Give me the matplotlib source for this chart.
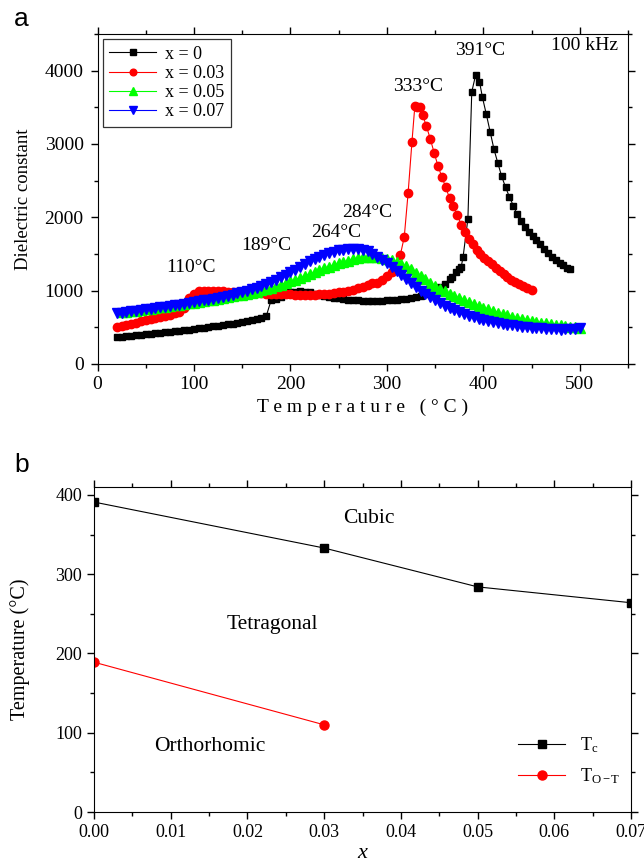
import matplotlib
matplotlib.use("Agg")
import matplotlib.pyplot as plt
from matplotlib.ticker import MultipleLocator

plt.rcParams['font.family'] = ['Liberation Serif', 'DejaVu Serif']
plt.rcParams['mathtext.fontset'] = 'custom'
plt.rcParams['mathtext.rm'] = 'Liberation Serif'
plt.rcParams['mathtext.it'] = 'Liberation Serif:italic'

# ---- panel a data: dielectric constant vs temperature (100 kHz) ----
t_x0 = [20, 25, 30, 35, 40, 45, 50, 55, 60, 65, 70, 75, 80, 85, 90, 95, 100, 105, 110, 115,
        120, 125, 130, 135, 140, 145, 150, 155, 160, 165, 170, 175, 180, 185, 190, 195, 200,
        205, 210, 215, 220, 225, 230, 235, 240, 245, 250, 255, 260, 265, 270, 275, 280, 285,
        290, 295, 300, 305, 310, 315, 320, 325, 330, 335, 340, 345, 350, 355, 360, 365, 368,
        372, 375, 377, 379, 384, 388, 392, 396, 399, 403, 407, 411, 415, 419, 423, 427, 431,
        435, 439, 443, 447, 451, 455, 459, 463, 467, 471, 475, 479, 483, 487, 490]
e_x0 = [365, 372, 378, 385, 392, 398, 405, 412, 418, 425, 432, 440, 447, 455, 462, 470, 478,
        486, 494, 502, 511, 520, 530, 540, 550, 560, 572, 585, 598, 612, 630, 655, 870, 890,
        920, 950, 975, 985, 990, 985, 975, 960, 945, 930, 915, 905, 895, 885, 878, 872, 867,
        864, 862, 862, 862, 864, 866, 870, 875, 882, 890, 900, 912, 928, 948, 972, 1005,
        1045, 1095, 1160, 1190, 1250, 1290, 1320, 1460, 1980, 3710, 3940, 3850, 3640, 3410,
        3170, 2930, 2740, 2560, 2410, 2280, 2160, 2040, 1950, 1870, 1800, 1740, 1690, 1630,
        1570, 1510, 1460, 1420, 1380, 1345, 1310, 1290]

t_x3 = [20, 25, 30, 35, 40, 45, 50, 55, 60, 65, 70, 75, 80, 85, 90, 95, 100, 105, 110, 115,
        120, 125, 130, 135, 140, 145, 150, 155, 160, 165, 170, 175, 180, 185, 190, 195, 200,
        205, 210, 215, 220, 225, 230, 235, 240, 245, 250, 255, 260, 265, 270, 275, 280, 285,
        290, 295, 300, 305, 309, 314, 318, 322, 326, 329, 331, 334, 337, 341, 345, 349, 353,
        357, 361, 365, 369, 373, 377, 381, 385, 389, 393, 397, 401, 405, 409, 413, 417, 421,
        425, 429, 433, 437, 441, 445, 450]
e_x3 = [505, 520, 535, 550, 565, 580, 595, 610, 625, 640, 655, 670, 690, 710, 760, 900, 960,
        990, 1000, 1000, 1000, 995, 990, 985, 980, 978, 975, 972, 968, 965, 962, 960, 958,
        955, 952, 950, 948, 945, 943, 942, 943, 945, 948, 952, 958, 965, 975, 985, 998, 1012,
        1030, 1050, 1075, 1100, 1110, 1150, 1200, 1260, 1350, 1490, 1730, 2330, 3030, 3520,
        3510, 3500, 3400, 3240, 3070, 2880, 2700, 2550, 2410, 2260, 2150, 2030, 1900, 1800,
        1710, 1630, 1560, 1500, 1450, 1400, 1360, 1310, 1270, 1230, 1190, 1150, 1120, 1090,
        1060, 1035, 1010]

t_x5 = list(range(25, 505, 5))
e_x5 = [705, 713, 721, 729, 737, 746, 754, 763, 772, 781, 790, 799, 808, 818, 828, 838, 848,
        858, 868, 878, 889, 900, 911, 922, 934, 946, 959, 973, 988, 1004, 1021, 1040, 1060,
        1081, 1103, 1126, 1150, 1175, 1200, 1226, 1252, 1278, 1303, 1327, 1350, 1372, 1392,
        1410, 1426, 1440, 1452, 1460, 1463, 1460, 1450, 1435, 1415, 1390, 1362, 1330, 1290,
        1245, 1200, 1155, 1110, 1068, 1025, 990, 955, 925, 897, 870, 845, 820, 795, 770, 745,
        722, 700, 680, 662, 646, 631, 617, 604, 585, 575, 565, 555, 545, 535, 526, 517, 509,
        502, 496]

t_x7 = list(range(20, 505, 5))
e_x7 = [690, 700, 710, 718, 727, 735, 745, 753, 762, 771, 780, 789, 798, 808, 818, 829, 845,
        856, 867, 879, 891, 904, 917, 931, 946, 962, 979, 997, 1016, 1037, 1060, 1087, 1116,
        1147, 1180, 1214, 1250, 1287, 1325, 1362, 1398, 1432, 1463, 1490, 1513, 1532, 1548,
        1560, 1567, 1570, 1567, 1558, 1535, 1505, 1465, 1420, 1372, 1320, 1265, 1210, 1155,
        1100, 1050, 1000, 955, 910, 868, 830, 795, 762, 732, 705, 680, 657, 636, 617, 600,
        585, 571, 558, 546, 535, 525, 516, 508, 501, 495, 489, 484, 479, 475, 472, 470, 471,
        475, 482, 492]

peak_labels = ['391°C', '333°C', '284°C', '264°C', '189°C', '110°C']
peak_label_pos = [(397, 4280), (332, 3780), (280, 2060), (247, 1790), (175, 1620), (97, 1320)]

# ---- panel b data: phase diagram ----
comp = [0.0, 0.03, 0.05, 0.07]
tc = [391, 333, 284, 264]
comp_ot = [0.0, 0.03]
t_ot = [189, 110]

fig = plt.figure(figsize=(6.44, 8.67), dpi=100)

# panel a
ax1 = fig.add_axes([0.1514, 0.5802, 0.8238, 0.3806])
ax1.plot(t_x0, e_x0, 's-', color='black', ms=5, lw=0.8, label='x = 0')
ax1.plot(t_x3, e_x3, 'o-', color='red', ms=6, lw=0.8, label='x = 0.03')
ax1.plot(t_x5, e_x5, '^-', color='#00ff00', ms=6.5, lw=0.8, label='x = 0.05')
ax1.plot(t_x7, e_x7, 'v-', color='blue', ms=6.5, lw=0.8, label='x = 0.07')

for txt, (px, py) in zip(peak_labels, peak_label_pos):
    ax1.text(px, py, txt, ha='center', va='center', fontsize=14)
ax1.text(505, 4340, '100 kHz', ha='center', va='center', fontsize=14)

ax1.set_xlim(0, 550)
ax1.set_ylim(0, 4500)
ax1.xaxis.set_major_locator(MultipleLocator(100))
ax1.xaxis.set_minor_locator(MultipleLocator(50))
ax1.yaxis.set_major_locator(MultipleLocator(1000))
ax1.yaxis.set_minor_locator(MultipleLocator(500))
ax1.tick_params(which='both', direction='out', top=True, right=True, labelsize=14, width=1)
ax1.tick_params(which='major', length=5)
ax1.tick_params(which='minor', length=3)
ax1.tick_params(axis='y', pad=5)
ax1.set_xlabel('T e m p e r a t u r e   ( ° C )', fontsize=14, labelpad=4)
ax1.set_ylabel('Dielectric constant', fontsize=13.5, labelpad=9)
leg = ax1.legend(loc='upper left', fontsize=13, fancybox=False, edgecolor='black',
                 handlelength=2.6, handletextpad=0.5, borderaxespad=0.3, labelspacing=0.12,
                 borderpad=0.35, markerscale=0.8)
leg.get_frame().set_linewidth(0.9)
fig.text(0.022, 0.978, 'a', fontsize=19, family='Liberation Sans', va='center')

# panel b
ax2 = fig.add_axes([0.146, 0.0634, 0.834, 0.3749])
ax2.plot(comp, tc, 's-', color='black', ms=6, lw=0.8, label='T$_\\mathregular{c}$')
ax2.plot(comp_ot, t_ot, 'o-', color='red', ms=6.5, lw=0.8, label='T$_\\mathregular{O-T}$')
ax2.text(0.0358, 370, 'Cubic', ha='center', va='center', fontsize=15.5)
ax2.text(0.0233, 237, 'Tetragonal', ha='center', va='center', fontsize=15.5)
ax2.text(0.0151, 83, 'Orthorhomic', ha='center', va='center', fontsize=15.5)
ax2.set_xlim(0, 0.07)
ax2.set_ylim(0, 410)
ax2.xaxis.set_major_locator(MultipleLocator(0.01))
ax2.xaxis.set_minor_locator(MultipleLocator(0.005))
ax2.yaxis.set_major_locator(MultipleLocator(100))
ax2.yaxis.set_minor_locator(MultipleLocator(50))
ax2.xaxis.set_major_formatter(plt.FormatStrFormatter('%.2f'))
ax2.tick_params(which='both', direction='out', top=True, right=True, labelsize=13, width=1)
ax2.tick_params(which='major', length=5)
ax2.tick_params(which='minor', length=3)
ax2.set_xlabel('$\\mathit{x}$', fontsize=16, labelpad=2)
ax2.set_ylabel('Temperature (°C)', fontsize=14.5, labelpad=18)
ax2.legend(loc='lower right', bbox_to_anchor=(1.01, 0.03), frameon=False, fontsize=13,
           handlelength=2.6, labelspacing=0.6)
fig.text(0.022, 0.4637, 'b', fontsize=19, family='Liberation Sans', va='center')

fig.savefig('out.png', dpi=100)
